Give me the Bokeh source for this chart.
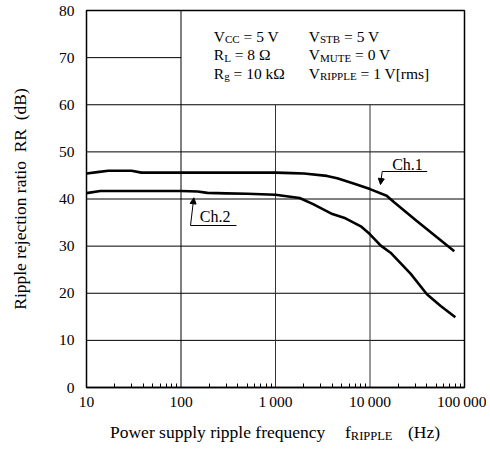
import math
from bokeh.plotting import figure
from bokeh.models import Label, FixedTicker, Arrow, NormalHead, Div
from bokeh.layouts import column
from bokeh.embed import file_html
from bokeh.resources import INLINE

# ---------------- data ----------------
freq_ch1 = [10, 13, 17, 30, 38, 100, 1000, 1500, 2000, 3500, 4500, 6700, 10000,
            15000, 18000, 31500, 78000]
rr_ch1 = [45.4, 45.7, 46.0, 46.0, 45.6, 45.6, 45.6, 45.5, 45.4, 44.9, 44.4, 43.3, 42.1,
          40.7, 39.3, 35.3, 28.9]

freq_ch2 = [10, 14, 100, 150, 190, 300, 500, 1000, 1800, 2500, 4000, 5500, 8000, 10000,
            13000, 16500, 27000, 40000, 56000, 80000]
rr_ch2 = [41.25, 41.7, 41.7, 41.6, 41.3, 41.2, 41.1, 40.9, 40.2, 38.9, 36.8, 35.9, 34.2, 32.5,
          30.1, 28.6, 24.1, 19.8, 17.3, 14.9]

y_ticks = [0, 10, 20, 30, 40, 50, 60, 70, 80]
x_ticks = [10, 100, 1000, 10000, 100000]
x_tick_labels = ["10", "100", "1\u2009000", "10\u2009000", "100\u2009000"]
x_minor_ticks = [m * 10 ** e for e in range(1, 5) for m in range(2, 10)]

h_grid_full = [10, 20, 30, 40, 50, 60]
h_grid_short = [70]          # only up to 100 Hz
v_grid_full = [100]
v_grid_short = [1000, 10000]  # only up to 60 dB

x_label_main = "Power supply ripple frequency"
x_label_sym, x_label_sub, x_label_unit = "f", "RIPPLE", "(Hz)"
y_label = "Ripple rejection ratio\u00a0 RR\u00a0 (dB)"

cond_left = [("V", "CC", "= 5 V"), ("R", "L", "= 8 \u03a9"), ("R", "g", "= 10 k\u03a9")]
cond_right = [("V", "STB", "= 5 V"), ("V", "MUTE", "= 0 V"), ("V", "RIPPLE", "= 1 V[rms]")]

# ---------------- layout ----------------
W, H = 486, 420
ML, MR, MT, MB = 86, 22, 10, 33
FL, FR = ML, W - MR
FT, FB = MT, H - MB
X0, X1, Y0, Y1 = 10, 100000, 0, 80
FONT = "Liberation Serif"
LABEL_DY = -4.5   # compensation for Label baseline placement


def dx(px):
    lo, hi = math.log10(X0), math.log10(X1)
    return 10 ** (lo + (px - FL) / (FR - FL) * (hi - lo))


def dy(py):
    return Y0 + (FB - py) / (FB - FT) * (Y1 - Y0)


WID = {' ': 250, '=': 564, 'V': 722, 'C': 667, 'R': 667, 'L': 611, 'g': 500, 'S': 556,
       'T': 611, 'B': 667, 'M': 889, 'U': 722, 'E': 611, 'I': 333, 'P': 556, 'k': 500,
       '\u03a9': 768, '[': 333, ']': 333, 'r': 333, 'm': 778, 's': 389, 'f': 333,
       'H': 722, 'z': 444, '(': 333, ')': 333}


def tw(s, size):
    return sum(WID.get(c, 500) for c in s) * size / 1000.0


p = figure(width=W, height=H, x_axis_type="log", x_range=(X0, X1), y_range=(Y0, Y1),
           output_backend="svg", toolbar_location=None, title=None,
           min_border_left=ML, min_border_right=MR, min_border_top=MT, min_border_bottom=MB)
p.background_fill_color = "white"
p.border_fill_color = "white"
p.outline_line_color = "black"
p.outline_line_width = 1.5
p.grid.visible = False

ax = p.xaxis[0]
ax.ticker = FixedTicker(ticks=x_ticks, minor_ticks=x_minor_ticks)
ax.major_label_overrides = {t: l for t, l in zip(x_ticks, x_tick_labels)}
ax.major_tick_line_color = None
ax.major_tick_in = 0
ax.major_tick_out = 0
ax.minor_tick_in = 4
ax.minor_tick_out = 0
ax.minor_tick_line_color = "black"
ax.axis_line_color = "black"
ax.axis_line_width = 1.5
ax.major_label_text_font = FONT
ax.major_label_text_font_size = "15.5px"
ax.major_label_text_color = "black"
ax.major_label_standoff = 5

ay = p.yaxis[0]
ay.ticker = FixedTicker(ticks=y_ticks, minor_ticks=[])
ay.major_tick_line_color = None
ay.major_tick_in = 0
ay.major_tick_out = 0
ay.minor_tick_line_color = None
ay.axis_line_color = None
ay.major_label_text_font = FONT
ay.major_label_text_font_size = "15.5px"
ay.major_label_text_color = "black"
ay.major_label_standoff = 12
ay.axis_label = y_label
ay.axis_label_text_font = FONT
ay.axis_label_text_font_size = "17.5px"
ay.axis_label_text_font_style = "normal"
ay.axis_label_text_color = "black"
ay.axis_label_standoff = 26

# grid lines
p.segment(x0=[X0] * len(h_grid_full), y0=h_grid_full, x1=[X1] * len(h_grid_full), y1=h_grid_full,
          line_color="black", line_width=1)
p.segment(x0=[X0] * len(h_grid_short), y0=h_grid_short, x1=[100] * len(h_grid_short), y1=h_grid_short,
          line_color="black", line_width=1)
p.segment(x0=v_grid_full, y0=[Y0] * len(v_grid_full), x1=v_grid_full, y1=[Y1] * len(v_grid_full),
          line_color="black", line_width=1)
p.segment(x0=v_grid_short, y0=[Y0] * len(v_grid_short), x1=v_grid_short, y1=[60] * len(v_grid_short),
          line_color="#333333", line_width=1)

# curves
p.line(freq_ch1, rr_ch1, line_color="black", line_width=2.6, line_join="round")
p.line(freq_ch2, rr_ch2, line_color="black", line_width=2.6, line_join="round")


def lab(x_px, y_px, text, size):
    p.add_layout(Label(x=dx(x_px), y=dy(y_px + LABEL_DY), text=text, text_font=FONT,
                       text_font_size=f"{size}px", text_color="black", text_align="left",
                       text_baseline="alphabetic"))


def rich(x_px, y_px, main, sub, rest, size, subsize, drop):
    lab(x_px, y_px, main, size)
    xs = x_px + tw(main, size)
    lab(xs, y_px + drop, sub, subsize)
    xr = xs + tw(sub, subsize) + tw(" ", size)
    lab(xr, y_px, rest, size)


# conditions box
row_y = [40, 58.5, 77]
for (m, s, r), yy in zip(cond_left, row_y):
    rich(213.3, yy, m, s, r, 15.5, 11, 3)
for (m, s, r), yy in zip(cond_right, row_y):
    rich(308.3, yy, m, s, r, 15.5, 11, 3)

# channel labels with leaders
lab(391.7, 168, "Ch.1", 16)
p.line([dx(426.7), dx(381.7)], [dy(171), dy(171)], line_color="black", line_width=1)
p.add_layout(Arrow(end=NormalHead(size=6, fill_color="black", line_color="black", line_width=1),
                   x_start=dx(381.7), y_start=dy(171), x_end=dx(380), y_end=dy(184),
                   line_color="black", line_width=1))
lab(199.3, 220, "Ch.2", 16)
p.line([dx(236), dx(190)], [dy(225), dy(225)], line_color="black", line_width=1)
p.add_layout(Arrow(end=NormalHead(size=6, fill_color="black", line_color="black", line_width=1),
                   x_start=dx(190), y_start=dy(225), x_end=dx(193.3), y_end=dy(197.3),
                   line_color="black", line_width=1))

# x-axis title (with subscript) below the plot
x_sym_left = 345
x_sub_left = x_sym_left + tw(x_label_sym, 17.5)
x_unit_left = 408
xlab_html = (
    '<div style="position:relative; width:%dpx; height:32px; font-family:\'%s\'; '
    'font-size:17.5px; line-height:20px; color:black; white-space:pre;">'
    '<span style="position:absolute; left:110px; top:2px;">%s</span>'
    '<span style="position:absolute; left:%.1fpx; top:2px;">%s</span>'
    '<span style="position:absolute; left:%.1fpx; top:6px; font-size:12.5px;">%s</span>'
    '<span style="position:absolute; left:%.1fpx; top:2px;">%s</span>'
    '</div>' % (W, FONT, x_label_main, x_sym_left, x_label_sym, x_sub_left, x_label_sub,
                x_unit_left, x_label_unit))
div = Div(text=xlab_html, width=W, height=32, margin=0)

layout = column(p, div, spacing=0)
open("out.html", "w").write(file_html(layout, INLINE))
